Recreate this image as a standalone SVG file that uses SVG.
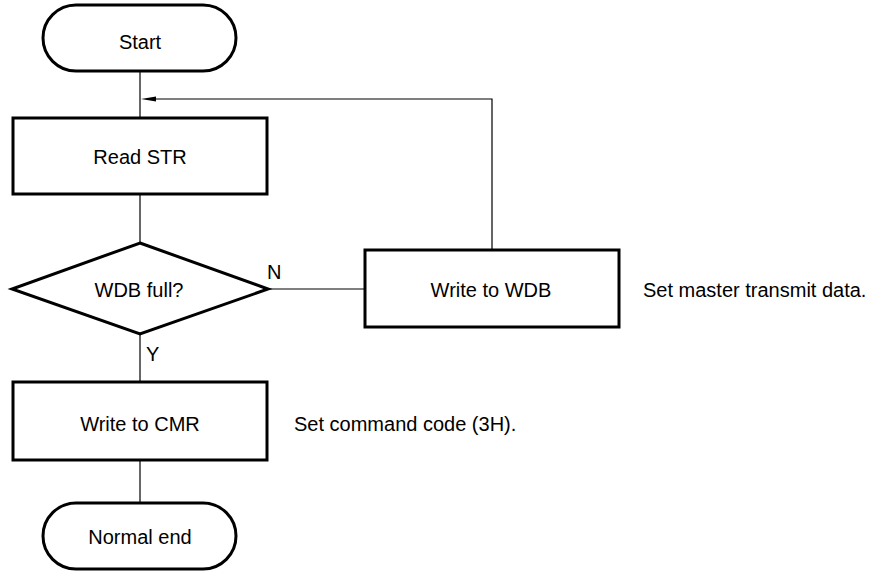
<svg xmlns="http://www.w3.org/2000/svg" width="885" height="571" viewBox="0 0 885 571">
<defs>
<style>
.shape{fill:#fff;stroke:#000;stroke-width:3}
.conn{fill:none;stroke:#000;stroke-width:1.2}
text{font-family:"Liberation Sans",Arial,sans-serif;font-size:20px;fill:#000}
.c{text-anchor:middle}
</style>
</defs>
<g id="connectors">
<line class="conn" x1="140" y1="71" x2="140" y2="118"/>
<path class="conn" d="M492,250 L492,99 L156,99"/>
<path d="M141,99 L156,96.5 L156,101.5 Z" fill="#000"/>
<line class="conn" x1="140" y1="194" x2="140" y2="243"/>
<line class="conn" x1="268" y1="289" x2="365" y2="289"/>
<line class="conn" x1="140" y1="334" x2="140" y2="382"/>
<line class="conn" x1="140" y1="460" x2="140" y2="503"/>
<text x="267" y="279">N</text>
<text x="146" y="361">Y</text>
</g>
<g id="start">
<rect class="shape" x="43" y="5" width="193" height="66" rx="33" ry="33"/>
<text class="c" x="140" y="49">Start</text>
</g>
<g id="readSTR">
<rect class="shape" x="13" y="118" width="254" height="76"/>
<text class="c" x="140" y="164">Read STR</text>
</g>
<g id="wdbFull">
<polygon class="shape" points="140,243 268,289 140,334 12,289"/>
<text class="c" x="139" y="297">WDB full?</text>
</g>
<g id="writeWDB">
<rect class="shape" x="365" y="250" width="254" height="77"/>
<text class="c" x="491" y="297">Write to WDB</text>
</g>
<g id="noteWDB">
<text x="643" y="297">Set master transmit data.</text>
</g>
<g id="writeCMR">
<rect class="shape" x="13" y="382" width="254" height="78"/>
<text class="c" x="140" y="431">Write to CMR</text>
</g>
<g id="noteCMR">
<text x="294" y="431">Set command code (3H).</text>
</g>
<g id="normalEnd">
<rect class="shape" x="43" y="503" width="193" height="66" rx="33" ry="33"/>
<text class="c" x="140" y="544">Normal end</text>
</g>
</svg>
